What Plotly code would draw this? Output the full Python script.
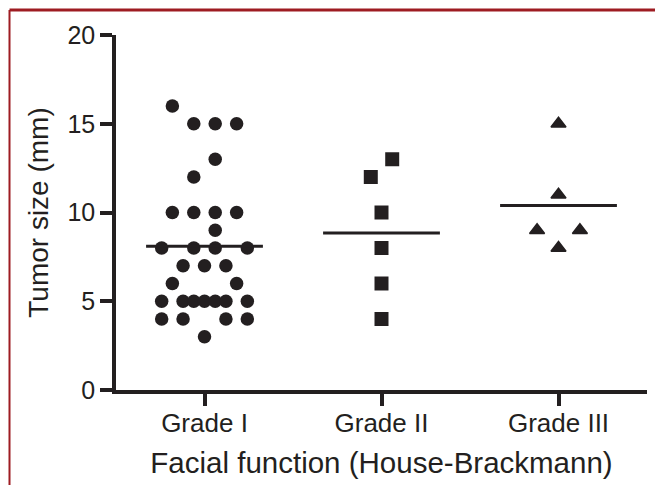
import plotly.graph_objects as go

# Tumour size by House-Brackmann facial function grade
categories = ["Grade I", "Grade II", "Grade III"]

grade_i_mm = [16, 15, 15, 15, 13, 12, 10, 10, 10, 10, 9, 8, 8, 8, 8,
              7, 7, 7, 6, 6, 5, 5, 5, 5, 5, 5, 5, 4, 4, 4, 4, 3]
grade_i_slot = [-3, -1, 1, 3, 1, -1, -3, -1, 1, 3, 1, -4, -1, 1, 4,
                -2, 0, 2, -3, 3, -4, -2, -1, 0, 1, 2, 4, -4, -2, 2, 4, 0]

grade_ii_mm = [13, 12, 10, 8, 6, 4]
grade_ii_slot = [1, -1, 0, 0, 0, 0]

grade_iii_mm = [15, 11, 9, 9, 8]
grade_iii_slot = [0, 0, -2, 2, 0]

group_means = [8.1, 8.85, 10.4]

y_ticks = [0, 5, 10, 15, 20]

INK = "#231f20"
FRAME = "#9e1c22"
FONT = "Liberation Sans, Arial, Helvetica, sans-serif"
SLOT = 0.0605       # horizontal spread between neighbouring dots
HALF_BAR = 0.33     # half width of the mean bar

W, H = 655, 485
ML, MR, MT, MB = 116, 8, 35, 95

groups = [
    (grade_i_mm, grade_i_slot, "circle", 13.5, 0),
    (grade_ii_mm, grade_ii_slot, "square", 14, 0),
    (grade_iii_mm, grade_iii_slot, "triangle-up", 13, 1.5),
]

fig = go.Figure()
for i, (vals, slots, sym, size, lw) in enumerate(groups):
    fig.add_trace(go.Scatter(
        x=[i + s * SLOT for s in slots], y=vals, mode="markers",
        marker=dict(symbol=sym, size=size, color=INK,
                    line=dict(width=lw, color=INK)),
        showlegend=False, hoverinfo="y", cliponaxis=False,
    ))
    fig.add_trace(go.Scatter(
        x=[i - HALF_BAR, i + HALF_BAR], y=[group_means[i]] * 2,
        mode="lines", line=dict(color=INK, width=3),
        showlegend=False, hoverinfo="skip",
    ))

pw = W - ML - MR
ph = H - MT - MB
# frame: top rule and left rule in dark red
fig.add_shape(type="line", xref="paper", yref="paper",
              x0=(9.5 - ML) / pw, x1=(W + 5 - ML) / pw,
              y0=1 + (MT - 10) / ph, y1=1 + (MT - 10) / ph,
              line=dict(color=FRAME, width=3))
fig.add_shape(type="line", xref="paper", yref="paper",
              x0=(9.5 - ML) / pw, x1=(9.5 - ML) / pw,
              y0=1 + (MT - 10) / ph, y1=-(MB + 5) / ph,
              line=dict(color=FRAME, width=2))

fig.update_layout(
    width=W, height=H,
    margin=dict(l=ML, r=MR, t=MT, b=MB),
    paper_bgcolor="white", plot_bgcolor="white",
    font=dict(family=FONT, color=INK),
)
fig.update_xaxes(
    range=[-0.5, 2.5], tickvals=[0, 1, 2], ticktext=categories,
    showline=True, linecolor=INK, linewidth=3.5,
    ticks="outside", ticklen=12, tickwidth=3.5, tickcolor=INK,
    tickfont=dict(size=26, family=FONT, color=INK),
    ticklabelstandoff=-5,
    showgrid=False, zeroline=False,
    title=dict(text="Facial function (House-Brackmann)",
               font=dict(size=29.5, family=FONT, color=INK), standoff=16),
)
fig.update_yaxes(
    range=[0, 20], tickvals=y_ticks,
    showline=True, linecolor=INK, linewidth=3.5,
    ticks="outside", ticklen=12, tickwidth=3.5, tickcolor=INK,
    tickfont=dict(size=25, family=FONT, color=INK),
    showgrid=False, zeroline=False,
    title=dict(text="Tumor size (mm)",
               font=dict(size=28, family=FONT, color=INK), standoff=12),
)

fig.write_html("out.html")
